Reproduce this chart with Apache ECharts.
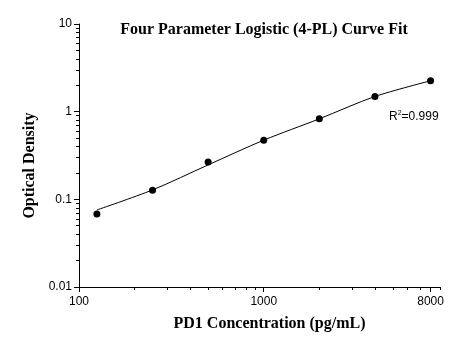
<!DOCTYPE html>
<html><head><meta charset="utf-8">
<script src="https://cdn.jsdelivr.net/npm/echarts@6/dist/echarts.min.js"></script>
<style>html,body{margin:0;padding:0;background:#fff}#c{width:457px;height:346px}</style>
</head><body><div id="c"></div>
<script>
const concentrations = [125, 250, 500, 1000, 2000, 4000, 8000];
const odValues = [0.068, 0.127, 0.267, 0.473, 0.828, 1.49, 2.25];
const fitValues = [0.0757, 0.128, 0.247, 0.473, 0.828, 1.49, 2.25];
const xLabelValues = [100, 1000, 8000];
const xMinorTicks = [200,300,400,500,600,700,800,900,2000,3000,4000,5000,6000,7000,9000];
const yLabelValues = [0.01, 0.1, 1, 10];
const yMinorTicks = [];
[0.01,0.1,1].forEach(d => { for (let k=2;k<=9;k++) yMinorTicks.push(+(d*k).toPrecision(3)); });
const rSquared = '0.999';

const chart = echarts.init(document.getElementById('c'));
const pts = concentrations.map((c,i)=>[c, odValues[i]]);
const fit = concentrations.map((c,i)=>[c, fitValues[i]]);
const serif = '"Liberation Serif", "Times New Roman", serif';
const sans = '"Liberation Sans", Arial, sans-serif';
const xBase = {type:'log', logBase:10, min:100, max:9000, gridIndex:0};
const yBase = {type:'log', logBase:10, min:0.01, max:10, gridIndex:0};
chart.setOption({
  animation:false,
  backgroundColor:'#fff',
  title:{text:'Four Parameter Logistic (4-PL) Curve Fit', left:259, top:17, textAlign:'center',
    textStyle:{fontFamily:serif, fontWeight:'bold', fontSize:16, color:'#000'}},
  grid:{left:79, right:17, top:24, bottom:59},
  xAxis:[
    Object.assign({}, xBase, {
      name:'PD1 Concentration (pg/mL)', nameLocation:'middle', nameGap:29,
      nameTextStyle:{fontFamily:serif, fontWeight:'bold', fontSize:16, color:'#000', padding:[0,0,0,20]},
      axisLine:{show:true, onZero:false, lineStyle:{color:'#000', width:1}},
      axisTick:{show:true, inside:false, length:5, customValues:xLabelValues, lineStyle:{color:'#000'}},
      axisLabel:{show:true, customValues:xLabelValues, margin:9, fontFamily:sans, fontSize:12, color:'#000',
        formatter:v=>String(Math.round(v))},
      splitLine:{show:false}, minorTick:{show:false}, minorSplitLine:{show:false}
    }),
    Object.assign({}, xBase, {
      axisLine:{show:false, onZero:false},
      axisTick:{show:true, inside:false, length:3, customValues:xMinorTicks, lineStyle:{color:'#000'}},
      axisLabel:{show:false}, splitLine:{show:false}, position:'bottom'
    })
  ],
  yAxis:[
    Object.assign({}, yBase, {
      name:'Optical Density', nameLocation:'middle', nameGap:41,
      nameTextStyle:{fontFamily:serif, fontWeight:'bold', fontSize:16, color:'#000', padding:[0,20,0,0]},
      axisLine:{show:true, onZero:false, lineStyle:{color:'#000', width:1}},
      axisTick:{show:true, inside:false, length:5, customValues:yLabelValues, lineStyle:{color:'#000'}},
      axisLabel:{show:true, customValues:yLabelValues, margin:7, fontFamily:sans, fontSize:12, color:'#000',
        formatter:v=>String(+v.toPrecision(2))},
      splitLine:{show:false}
    }),
    Object.assign({}, yBase, {
      axisLine:{show:false, onZero:false},
      axisTick:{show:true, inside:false, length:3, customValues:yMinorTicks, lineStyle:{color:'#000'}},
      axisLabel:{show:false}, splitLine:{show:false}, position:'left'
    })
  ],
  series:[{
    type:'line', xAxisIndex:0, yAxisIndex:0, data:fit, smooth:0.3,
    showSymbol:false, symbol:'none',
    lineStyle:{color:'#000', width:1}
  },{
    type:'scatter', xAxisIndex:0, yAxisIndex:0, data:pts,
    symbol:'circle', symbolSize:7, itemStyle:{color:'#000', opacity:1}
  }],
  graphic:[{
    type:'text', left:389, top:110,
    style:{text:'{r|R}{s|2}{r|='+rSquared+'}', rich:{
      r:{fontFamily:sans, fontSize:12, fill:'#000', verticalAlign:'bottom'},
      s:{fontFamily:sans, fontSize:7, fill:'#000', verticalAlign:'top', padding:[0,0,6,0]}
    }}
  }]
});
</script></body></html>
